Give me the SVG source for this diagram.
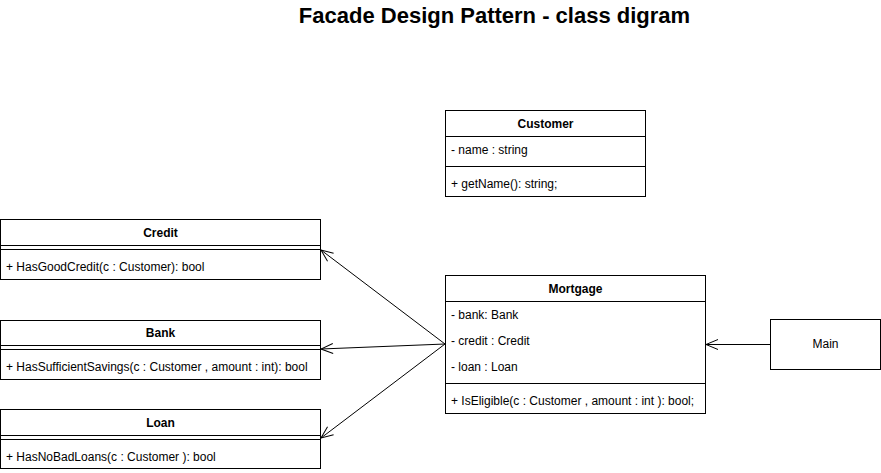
<svg xmlns="http://www.w3.org/2000/svg" width="881" height="473" viewBox="0 0 881 473">
<style>
text{font-family:"Liberation Sans",Arial,sans-serif;font-size:12px;fill:#000}
.h{font-weight:bold;text-anchor:middle}
.box{fill:#fff;stroke:#000;stroke-width:1}
.ln{stroke:#000;stroke-width:1;fill:none}
.title{font-size:22px;font-weight:bold;text-anchor:middle}
</style>
<defs>
<marker id="open" viewBox="0 0 14 12" refX="13" refY="6" markerWidth="14" markerHeight="12" orient="auto" markerUnits="userSpaceOnUse">
<path d="M1,1 L13,6 L1,11" fill="none" stroke="#000" stroke-width="1"/>
</marker>
</defs>
<rect width="881" height="473" fill="#fff"/>
<text class="title" x="494.5" y="23">Facade Design Pattern - class digram</text>

<g id="customer">
<rect class="box" x="445.5" y="110.5" width="200" height="86"/>
<line class="ln" x1="445.5" y1="136.5" x2="645.5" y2="136.5"/>
<line class="ln" x1="445.5" y1="166.5" x2="645.5" y2="166.5"/>
<text class="h" x="545.5" y="128">Customer</text>
<text x="451" y="154">- name : string</text>
<text x="451" y="188">+ getName(): string;</text>
</g>

<g id="credit">
<rect class="box" x="0.5" y="219.5" width="320" height="60"/>
<line class="ln" x1="0.5" y1="245.5" x2="320.5" y2="245.5"/>
<line class="ln" x1="0.5" y1="249.5" x2="320.5" y2="249.5"/>
<text class="h" x="160.5" y="237">Credit</text>
<text x="6" y="271">+ HasGoodCredit(c : Customer): bool</text>
</g>

<g id="bank">
<rect class="box" x="0.5" y="320.5" width="320" height="59"/>
<line class="ln" x1="0.5" y1="345.5" x2="320.5" y2="345.5"/>
<line class="ln" x1="0.5" y1="349.5" x2="320.5" y2="349.5"/>
<text class="h" x="160.5" y="337">Bank</text>
<text x="6" y="371">+ HasSufficientSavings(c : Customer , amount : int): bool</text>
</g>

<g id="loan">
<rect class="box" x="0.5" y="409.5" width="320" height="59"/>
<line class="ln" x1="0.5" y1="435.5" x2="320.5" y2="435.5"/>
<line class="ln" x1="0.5" y1="439.5" x2="320.5" y2="439.5"/>
<text class="h" x="160.5" y="427">Loan</text>
<text x="6" y="461">+ HasNoBadLoans(c : Customer ): bool</text>
</g>

<g id="mortgage">
<rect class="box" x="445.5" y="275.5" width="260" height="138"/>
<line class="ln" x1="445.5" y1="301.5" x2="705.5" y2="301.5"/>
<line class="ln" x1="445.5" y1="383.5" x2="705.5" y2="383.5"/>
<text class="h" x="575.5" y="293">Mortgage</text>
<text x="451" y="319">- bank: Bank</text>
<text x="451" y="345">- credit : Credit</text>
<text x="451" y="371">- loan : Loan</text>
<text x="451" y="405">+ IsEligible(c : Customer , amount : int ): bool;</text>
</g>

<g id="main">
<rect class="box" x="770.5" y="319.5" width="110" height="50"/>
<text x="825.5" y="348" text-anchor="middle">Main</text>
</g>

<g id="connectors">
<line class="ln" x1="445" y1="344" x2="321" y2="250" marker-end="url(#open)"/>
<line class="ln" x1="445" y1="344" x2="321" y2="349" marker-end="url(#open)"/>
<line class="ln" x1="445" y1="344" x2="321" y2="438" marker-end="url(#open)"/>
<line class="ln" x1="770" y1="344.5" x2="706" y2="344.5" marker-end="url(#open)"/>
</g>
</svg>
